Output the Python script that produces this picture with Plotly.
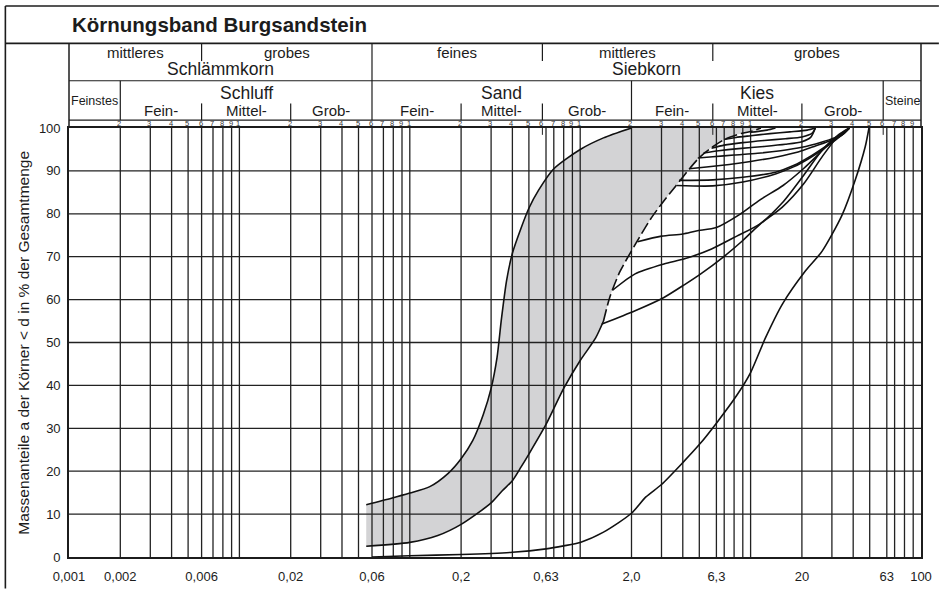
import numpy as np
import plotly.graph_objects as go

# ---------------------------------------------------------------
# Körnungsband Burgsandstein – grain size distribution chart
# x: grain diameter d in mm (log scale), y: mass percentage < d
# ---------------------------------------------------------------

# band: fine (upper/left) boundary
fine_d = [0.0555, 0.078, 0.1, 0.131, 0.168, 0.2, 0.234, 0.27, 0.3, 0.325,
          0.345, 0.37, 0.4, 0.45, 0.5, 0.57, 0.7, 1.0, 1.37, 2.0]
fine_p = [12.2, 13.7, 14.9, 16.4, 19.5, 22.9, 27.1, 33.2, 39.3, 46.5,
          55.5, 64.5, 70.8, 76.7, 81.3, 85.5, 90.5, 95.0, 97.7, 100.0]

# band: coarse (lower/right) boundary
coarse_d = [0.0555, 0.1, 0.146, 0.2, 0.3, 0.35, 0.4, 0.45, 0.5, 0.63, 0.8,
            1.0, 1.23, 1.37, 1.49, 1.71, 2.1, 2.59, 3.04, 3.64, 4.36, 5.0,
            5.7, 7.0, 8.8, 10.3, 11.5]
coarse_p = [2.5, 3.4, 5.0, 7.6, 12.6, 15.5, 17.8, 21.0, 24.0, 30.9, 39.3,
            45.8, 51.0, 55.0, 60.5, 66.5, 72.8, 78.8, 82.6, 86.5, 90.4, 93.1,
            95.0, 97.3, 98.7, 99.3, 100.0]

# single sieve curves of gravel-rich samples
sample_a_d = [10.0, 12.5, 14.0]
sample_a_p = [99.0, 99.5, 100.0]
sample_b_d = [7.0, 8.2, 10.0, 13.0, 17.0, 21.5, 24.0]
sample_b_p = [97.3, 97.8, 98.2, 98.7, 99.1, 99.5, 100.0]
sample_c_d = [5.9, 7.0, 9.0, 12.0, 16.0, 20.0, 23.0, 24.0]
sample_c_p = [95.3, 96.0, 96.6, 97.1, 97.5, 97.9, 98.8, 100.0]
sample_d_d = [5.3, 6.5, 8.5, 12.0, 16.0, 20.0, 22.5, 24.0]
sample_d_p = [94.2, 94.7, 95.2, 95.7, 96.2, 96.8, 97.8, 100.0]
sample_e_d = [4.9, 6.0, 8.0, 11.0, 15.0, 20.0, 26.0, 31.0, 35.0, 38.0]
sample_e_p = [93.0, 93.3, 93.7, 94.1, 94.7, 95.5, 96.7, 97.7, 98.7, 100.0]
sample_f_d = [4.36, 5.5, 7.5, 10.0, 14.0, 19.0, 24.0, 30.0, 35.0, 38.0]
sample_f_p = [90.5, 90.9, 91.5, 92.2, 93.2, 94.4, 95.8, 97.2, 98.6, 100.0]
sample_g_d = [3.8, 6.0, 9.0, 14.0, 18.0, 22.0, 27.0, 31.0, 35.0, 38.0]
sample_g_p = [87.8, 87.9, 88.5, 89.7, 91.3, 93.2, 95.5, 97.2, 98.7, 100.0]
sample_h_d = [3.7, 6.0, 9.0, 14.0, 18.0, 22.0, 27.0, 31.0, 35.0, 38.0]
sample_h_p = [86.6, 86.5, 87.4, 89.3, 91.0, 92.9, 95.2, 97.0, 98.6, 100.0]
sample_i_d = [2.17, 3.0, 4.0, 4.8, 6.3, 8.6, 11.3, 15.5, 20.4, 24.5, 29.3, 35.0, 38.0]
sample_i_p = [73.5, 74.8, 75.3, 76.0, 76.8, 79.8, 83.2, 86.6, 90.5, 93.5, 96.6, 98.8, 100.0]
sample_j_d = [1.55, 2.1, 3.1, 4.1, 5.9, 8.3, 11.3, 15.3, 20.5, 26.5, 33.0, 38.0]
sample_j_p = [62.2, 66.0, 68.3, 69.5, 71.8, 74.8, 77.6, 82.5, 89.0, 95.0, 98.5, 100.0]
sample_k_d = [1.34, 2.1, 3.1, 4.1, 5.1, 7.0, 8.9, 11.3, 15.3, 20.5, 26.5, 33.0, 38.0]
sample_k_p = [54.3, 57.4, 60.5, 63.5, 66.0, 70.1, 73.6, 77.5, 81.5, 87.0, 93.5, 98.3, 100.0]
sample_l_d = [0.06, 0.1, 0.2, 0.4, 0.63, 0.8, 1.0, 1.37, 2.0, 2.43, 3.0, 4.0,
              5.0, 6.3, 8.3, 10.0, 12.2, 15.4, 21.0, 26.3, 34.4, 41.2, 47.1, 49.5]
sample_l_p = [0.0, 0.3, 0.6, 1.1, 1.9, 2.6, 3.4, 5.8, 10.2, 14.0, 16.9, 22.0,
              26.2, 31.2, 37.7, 43.0, 51.0, 59.0, 66.7, 71.3, 79.7, 88.0, 95.7, 100.0]

# axis labelling
x_tick_vals = [0.001, 0.002, 0.006, 0.02, 0.06, 0.2, 0.63, 2.0, 6.3, 20, 63, 100]
x_tick_text = ["0,001", "0,002", "0,006", "0,02", "0,06", "0,2", "0,63",
               "2,0", "6,3", "20", "63", "100"]
y_tick_vals = list(range(0, 101, 10))

# grain size classes (DIN): boundaries in mm
header_row1 = [("mittleres", 0.001, 0.006), ("grobes", 0.006, 0.06),
               ("feines", 0.06, 0.6), ("mittleres", 0.6, 6), ("grobes", 6, 100)]
header_main1 = [("Schlämmkorn", 0.001, 0.06), ("Siebkorn", 0.06, 100)]
header_main2 = [("Schluff", 0.002, 0.06), ("Sand", 0.06, 2), ("Kies", 2, 60)]
header_sub2 = [("Fein-", 0.002, 0.006), ("Mittel-", 0.006, 0.02), ("Grob-", 0.02, 0.06),
               ("Fein-", 0.06, 0.2), ("Mittel-", 0.2, 0.6), ("Grob-", 0.6, 2),
               ("Fein-", 2, 6), ("Mittel-", 6, 20), ("Grob-", 20, 60)]
header_side2 = [("Feinstes", 0.001, 0.002), ("Steine", 60, 100)]

# ---------------------------------------------------------------
W, H = 944, 596
ML, MR, MT, MB = 69, 18, 128, 32
FONT = "Liberation Sans, Arial, Helvetica, sans-serif"
INK = "#1c1c1c"
GRID = "#222222"


def fx(d):
    """grain size -> paper x"""
    return (np.log10(d) + 3) / 5


def px(x):
    """pixel column -> paper x"""
    return (x - ML) / (W - ML - MR)


def py(y):
    """pixel row -> paper y"""
    return (H - MB - y) / (H - MT - MB)


fig = go.Figure()

# grey band
fig.add_trace(go.Scatter(
    x=fine_d + coarse_d[::-1], y=fine_p + coarse_p[::-1],
    fill="toself", fillcolor="#d3d3d5", mode="lines",
    line=dict(width=0, shape="spline", smoothing=0.7), hoverinfo="skip"))

# vertical grid
grid_d = [k * 10.0 ** e for e in (-3, -2) for k in (2, 3, 4, 5, 6, 7, 8, 9, 10)]
grid_d += [k * 10.0 ** e for e in (-1, 0, 1) for k in (2, 3, 4, 5, 6.3, 7, 8, 9, 10)]
grid_d = [g for g in grid_d if g < 99]
gx, gy = [], []
for g in grid_d:
    gx += [g, g, None]
    gy += [0, 100, None]
fig.add_trace(go.Scatter(x=gx, y=gy, mode="lines",
                         line=dict(color=GRID, width=1.3), hoverinfo="skip"))

# horizontal grid
hx, hy = [], []
for p in range(10, 100, 10):
    hx += [0.001, 100, None]
    hy += [p, p, None]
fig.add_trace(go.Scatter(x=hx, y=hy, mode="lines",
                         line=dict(color=GRID, width=1.3), hoverinfo="skip"))

# short marks at 0.6 / 6 / 60 below the 100 % line
sx, sy = [], []
for g in (0.6, 6, 60):
    sx += [g, g, None]
    sy += [100, 98.4, None]
fig.add_trace(go.Scatter(x=sx, y=sy, mode="lines",
                         line=dict(color=GRID, width=1), hoverinfo="skip"))

curve_line = dict(color="#111111", width=1.6, shape="spline", smoothing=0.7)

# band edges
split = coarse_d.index(1.37)
fig.add_trace(go.Scatter(x=fine_d, y=fine_p, mode="lines", line=curve_line))
fig.add_trace(go.Scatter(x=coarse_d[:split + 1], y=coarse_p[:split + 1],
                         mode="lines", line=curve_line))
fig.add_trace(go.Scatter(x=coarse_d[split:], y=coarse_p[split:], mode="lines",
                         line=dict(curve_line, dash="12px,4px")))

# sample curves
for cd, cp in [(sample_a_d, sample_a_p), (sample_b_d, sample_b_p),
               (sample_c_d, sample_c_p), (sample_d_d, sample_d_p),
               (sample_e_d, sample_e_p), (sample_f_d, sample_f_p),
               (sample_g_d, sample_g_p), (sample_h_d, sample_h_p),
               (sample_i_d, sample_i_p), (sample_j_d, sample_j_p),
               (sample_k_d, sample_k_p), (sample_l_d, sample_l_p)]:
    fig.add_trace(go.Scatter(x=cd, y=cp, mode="lines", line=curve_line))

# ---------------------------------------------------------------
# header table and frame
shapes = []


def hline(x0, x1, y, w=1.2):
    shapes.append(dict(type="line", xref="paper", yref="paper",
                       x0=x0, x1=x1, y0=py(y), y1=py(y),
                       line=dict(color=INK, width=w)))


def vline(x, y0, y1, w=1.2):
    shapes.append(dict(type="line", xref="paper", yref="paper",
                       x0=x, x1=x, y0=py(y0), y1=py(y1),
                       line=dict(color=INK, width=w)))


hline(px(5), px(944), 4, 1.6)
hline(px(5), px(944), 42, 1.6)
vline(px(5), 4, 596, 1.6)
hline(0, 1, 80)
hline(0, 1, 120)
vline(0, 42, 128, 1.5)
vline(1, 42, 128, 1.5)
vline(fx(0.06), 42, 120)
for b in (0.002, 2, 60):
    vline(fx(b), 80, 120)
for b in (0.006, 0.6, 6):
    vline(fx(b), 42, 60)
for b in (0.006, 0.02, 0.2, 0.6, 6, 20):
    vline(fx(b), 103, 120)

annotations = []


def label(x, y, s, size, **kw):
    annotations.append(dict(xref="paper", yref="paper", x=x, y=py(y), text=s,
                            showarrow=False, font=dict(family=FONT, size=size, color=INK),
                            xanchor=kw.get("xanchor", "center"), yanchor="middle",
                            textangle=kw.get("angle", 0)))


def mid(a, b):
    return (fx(a) + fx(b)) / 2


label(px(70), 23, "<b>Körnungsband Burgsandstein</b>", 20.5, xanchor="left")
for s, a, b in header_row1:
    label(mid(a, b), 51.5, s, 15)
for s, a, b in header_main1:
    label(mid(a, b), 68.5, s, 17.5)
for s, a, b in header_main2:
    label(mid(a, b), 92, s, 17.5)
for s, a, b in header_sub2:
    label(mid(a, b), 110, s, 15)
for s, a, b in header_side2:
    label(mid(a, b), 100.5, s, 12.5)

# small decade numerals above the 100 % line
NUM_FONT = dict(family=FONT, size=7.5, color="#333333")
for e in range(-3, 2):
    for k in range(2, 10):
        d = k * 10.0 ** e
        annotations.append(dict(xref="paper", yref="paper", x=fx(d), y=py(123.8),
                                text=str(k), showarrow=False, xshift=-1,
                                font=NUM_FONT, xanchor="center", yanchor="middle"))
    if e < 1:
        annotations.append(dict(xref="paper", yref="paper", x=fx(10.0 ** (e + 1)),
                                y=py(123.8), text="1", showarrow=False, xshift=-1,
                                font=NUM_FONT, xanchor="center", yanchor="middle"))

label(px(23), 346, "Massenanteile a der Körner &lt; d in % der Gesamtmenge", 15.5,
      angle=-90)

fig.update_layout(
    width=W, height=H,
    margin=dict(l=ML, r=MR, t=MT, b=MB, pad=0),
    paper_bgcolor="white", plot_bgcolor="white",
    showlegend=False,
    shapes=shapes, annotations=annotations,
    font=dict(family=FONT, color=INK),
    xaxis=dict(type="log", range=[-3, 2], showgrid=False, zeroline=False,
               showline=True, mirror=True, linecolor=INK, linewidth=1.6,
               tickmode="array", tickvals=x_tick_vals, ticktext=x_tick_text,
               ticks="outside", ticklen=7, tickcolor="rgba(0,0,0,0)",
               tickfont=dict(family=FONT, size=13, color=INK)),
    yaxis=dict(range=[0, 100], showgrid=False, zeroline=False,
               showline=True, mirror=True, linecolor=INK, linewidth=1.6,
               tickmode="array", tickvals=y_tick_vals,
               ticks="outside", ticklen=4, tickcolor="rgba(0,0,0,0)",
               tickfont=dict(family=FONT, size=13, color=INK)),
)

fig.write_html("out.html")
